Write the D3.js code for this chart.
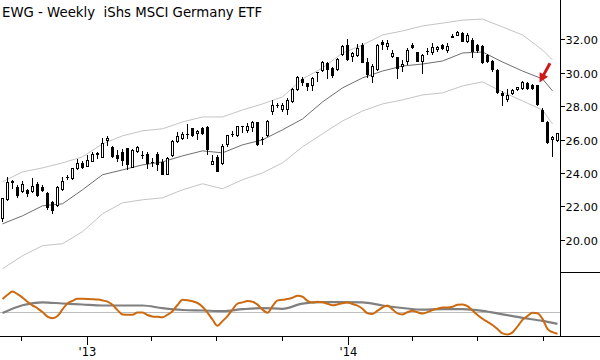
<!DOCTYPE html>
<html><head><meta charset="utf-8">
<script src="https://cdn.jsdelivr.net/npm/d3@7"></script>
<style>
body{margin:0;background:#fff}
svg{display:block}
text{font-family:"DejaVu Sans",sans-serif;fill:#000}
</style>
</head><body>
<svg id="c" width="600" height="360"></svg>
<script>
// ---------------- DATA ----------------
const title = "EWG - Weekly  iShs MSCI Germany ETF";
const startDate = new Date(2012, 8, 5); // first weekly bar
const open = [21.25,22.36,23.53,23.14,22.84,22.99,22.87,23.32,23.17,22.81,
22.27,21.99,22.99,23.77,23.63,24.21,24.58,24.38,24.68,25.11,
24.92,25.92,25.58,25.08,25.28,25.48,24.32,25.24,25.08,25.14,
24.63,25.12,24.68,23.89,25.04,25.84,26.04,26.31,26.68,26.32,
26.71,26.77,24.48,24.98,24.52,25.68,26.32,26.18,26.79,26.52,
26.68,27.04,26.01,26.18,27.67,28.07,27.75,27.74,28.27,28.97,
29.61,29.37,29.21,30.03,30.12,30.60,30.30,30.16,31.06,31.66,
30.92,31.00,31.66,30.66,29.75,30.16,31.86,31.51,30.92,30.94,
30.34,30.64,31.66,31.21,30.67,31.30,31.16,31.36,31.63,31.30,
32.14,32.22,32.36,31.86,31.96,31.66,31.57,31.06,30.70,30.16,
28.79,28.37,28.73,28.94,29.03,29.37,29.24,29.24,27.77,27.07,
25.98,25.92];
const high = [22.51,23.74,23.59,23.29,23.53,23.05,23.71,23.44,23.26,22.87,
22.30,23.20,23.77,23.86,24.32,24.81,24.69,25.08,25.28,25.28,
26.08,26.22,25.64,25.38,25.42,25.50,25.42,25.64,25.32,25.23,
24.90,25.24,24.82,24.98,25.98,26.47,26.44,26.92,26.71,26.58,
26.77,26.83,25.08,25.08,25.72,26.28,26.52,26.83,26.82,26.98,
27.11,27.07,26.12,27.17,28.37,28.17,28.17,28.46,29.07,29.81,
29.76,29.40,29.73,30.06,30.72,30.66,30.36,30.90,31.66,32.00,
31.26,31.70,31.76,30.86,30.52,31.70,31.96,31.96,31.36,30.96,
30.76,31.46,31.76,31.24,31.12,31.48,31.76,31.60,31.69,31.76,
32.30,32.47,32.42,32.38,32.06,31.72,31.66,31.12,30.76,30.22,
28.88,29.03,29.03,29.17,29.51,29.42,29.30,29.27,27.86,27.11,
26.20,26.40];
const low = [21.07,22.33,23.05,22.51,22.78,22.57,22.78,22.57,22.87,21.79,
21.52,21.95,22.89,23.59,23.59,24.18,24.24,24.33,24.64,24.82,
24.88,25.64,24.92,24.68,24.44,24.18,24.29,25.18,24.84,24.24,
24.38,24.12,23.87,23.86,24.98,25.78,25.98,26.04,26.14,25.98,
26.28,25.08,24.48,24.05,24.48,25.58,26.12,26.14,26.38,26.38,
26.47,25.64,25.68,26.16,27.47,27.87,27.67,27.47,28.21,28.93,
29.21,28.93,28.91,29.46,30.06,29.61,29.67,30.12,31.02,30.72,
30.66,30.96,30.56,29.67,29.37,30.12,31.36,31.36,30.86,29.61,
30.06,30.46,31.40,30.64,29.91,31.06,31.06,31.26,31.33,31.16,
32.08,32.17,31.84,31.78,30.86,31.18,30.55,30.61,30.07,28.73,
28.01,28.25,28.67,28.88,28.97,28.97,28.97,27.98,27.03,25.72,
24.98,25.88];
const close = [22.51,23.47,23.41,22.59,23.35,22.75,23.23,22.59,22.89,21.91,
21.73,23.17,23.53,23.71,24.30,24.58,24.32,24.78,25.12,25.18,
25.78,26.08,24.98,24.84,24.72,24.48,25.38,25.58,25.02,24.51,
24.57,24.48,23.89,24.92,25.92,26.22,26.32,26.25,26.18,26.52,
26.32,25.38,24.72,24.08,25.62,26.24,26.28,26.80,26.73,26.82,
27.04,25.68,25.95,27.11,28.07,28.01,28.07,28.37,29.01,29.73,
29.37,29.17,29.67,29.97,30.66,30.16,29.81,30.82,31.60,30.76,
31.16,31.46,30.60,29.87,30.40,31.66,31.66,31.80,31.16,30.22,
30.50,31.36,31.46,30.66,31.06,31.24,31.54,31.54,31.39,31.62,
32.20,32.42,31.86,32.26,31.24,31.30,30.56,30.66,30.16,28.79,
28.58,28.67,28.94,29.12,29.46,29.03,29.03,28.07,27.07,25.78,
26.16,26.38];

const bandWeeks = [0,4,8,12,16,20,24,28,32,36,40,44,48,52,56,60,64,68,72,76,80,84,88,92,96,100,104,108,110];
const bandUpper = [23.47,24.06,24.30,24.60,24.96,25.74,26.22,26.52,26.64,27.05,27.35,27.35,27.77,28.13,28.55,29.63,30.28,31.18,31.66,32.26,32.50,32.80,32.97,33.15,33.21,32.74,32.26,31.36,30.76];
const bandMid   = [20.95,21.43,22.03,22.15,22.99,23.89,24.18,24.48,24.66,25.02,25.32,25.20,25.68,25.98,26.58,27.23,28.25,29.09,29.69,30.10,30.40,30.52,30.70,31.18,31.24,30.64,30.10,29.63,28.91];
const bandLower = [18.26,19.04,19.64,19.76,20.48,21.55,22.21,22.39,22.51,22.99,23.35,23.05,23.59,24.00,24.60,25.56,26.34,27.11,27.71,28.13,28.37,28.67,28.79,29.21,29.45,28.85,28.31,27.77,26.93];

const oscFast = [13.5,17.7,20.9,18.3,14.9,10.8,7.2,4.2,0.4,-4.1,
-5.7,-3.6,3.1,9.1,11.6,13.7,13.7,13.6,13.3,12.9,
12.1,10.9,7.7,2.4,-2.0,-2.2,-2.3,0.0,0.1,-2.5,
-3.9,-4.3,-4.7,-2.2,1.3,7.5,12.7,12.2,11.2,9.5,
5.8,-0.1,-7.0,-13.3,-8.6,-3.6,3.0,8.9,10.1,11.4,
10.8,7.9,2.9,-0.2,6.4,12.1,12.7,13.4,14.7,16.7,
15.7,11.7,10.0,10.7,10.2,8.7,7.2,8.1,9.3,10.1,
8.5,6.8,3.7,-0.8,-1.4,1.8,5.0,7.1,3.1,-0.9,
-1.9,0.2,1.8,0.3,-1.1,0.4,2.4,3.8,5.1,4.9,
5.7,7.7,8.1,6.3,1.9,-2.5,-6.3,-9.4,-12.5,-16.6,
-20.9,-21.9,-19.9,-14.0,-7.4,-3.5,-0.2,-0.7,-6.3,-16.4,
-19.7,-21.3];
const slowWeeks = [0,4,8,12,16,20,24,28,32,36,40,44,48,52,56,60,64,68,72,76,80,84,88,92,96,100,104,108,111];
const oscSlow = [-0.5,7.3,10.2,9,8,7,7,7,4.3,2.5,2,1.4,3.3,4.4,3.7,8.9,10.3,10.3,10.1,7,4.5,2.8,3.3,3.3,1.7,-1.8,-5.4,-8.4,-11.3];

const priceTicks = [20,22,24,26,28,30,32];
const arrowFrom = [109.5, 30.56]; // [week, price]
const arrowTo   = [107.4, 29.42];

// ---------------- CHART ----------------
const svg = d3.select("#c");
const DAY = 864e5;
const weekDate = w => new Date(+startDate + w * 7 * DAY);
const n = open.length;
const x = d3.scaleTime().domain([weekDate(0), weekDate(n - 1)]).range([2.5, 557.5]);
const xw = w => x(weekDate(w));
const y = d3.scaleLinear().domain([20, 32]).range([239.7, 39.3]);
const yo = d3.scaleLinear().domain([-25, 40]).range([337.5, 272.5]);

svg.append("defs").append("clipPath").attr("id","pc")
  .append("rect").attr("x",0).attr("y",0).attr("width",560).attr("height",272);
svg.append("defs").append("clipPath").attr("id","oc")
  .append("rect").attr("x",0).attr("y",272).attr("width",560).attr("height",65);

// title
svg.append("text").attr("x",2).attr("y",16.5)
  .style("font-size","13.3px").style("white-space","pre").text(title);

const gp = svg.append("g").attr("clip-path","url(#pc)");

// bands
const bandLine = arr => d3.line().x((d,i)=>xw(bandWeeks[i])).y(d=>y(d))(arr);
gp.append("path").attr("d",bandLine(bandUpper)).attr("fill","none").attr("stroke","#c4c4c4").attr("stroke-width",1);
gp.append("path").attr("d",bandLine(bandLower)).attr("fill","none").attr("stroke","#c4c4c4").attr("stroke-width",1);
gp.append("path").attr("d",bandLine(bandMid)).attr("fill","none").attr("stroke","#6e6e6e").attr("stroke-width",1);

// candles
const candles = d3.range(n).map(i=>({i, o:open[i], h:high[i], l:low[i], c:close[i]}));
const cg = gp.append("g").attr("shape-rendering","crispEdges");
candles.forEach(d=>{
  const cx = xw(d.i);
  const yh = Math.round(y(d.h)), yl = Math.round(y(d.l));
  const top = Math.round(y(Math.max(d.o,d.c))), bot = Math.round(y(Math.min(d.o,d.c)));
  cg.append("line").attr("x1",cx).attr("x2",cx).attr("y1",yh).attr("y2",Math.max(yl,yh+1))
    .attr("stroke","#000").attr("stroke-width",1);
  if (d.c >= d.o) {
    const h = Math.max(bot - top, 2);
    cg.append("rect").attr("x",cx-1).attr("y",top+0.5).attr("width",2).attr("height",h-1)
      .attr("fill","#fff").attr("stroke","#000").attr("stroke-width",1);
  } else {
    const h = Math.max(bot - top, 1);
    cg.append("rect").attr("x",cx-1.5).attr("y",top).attr("width",3).attr("height",h)
      .attr("fill","#000");
  }
});

// arrow annotation
{
  const p1 = [xw(arrowFrom[0]), y(arrowFrom[1])];
  const p2 = [xw(arrowTo[0]), y(arrowTo[1])];
  const dx = p2[0]-p1[0], dy = p2[1]-p1[1], L = Math.hypot(dx,dy);
  const ux = dx/L, uy = dy/L, px = -uy, py = ux;
  const hl = 9, hw = 4.8;
  const b = [p2[0]-ux*hl, p2[1]-uy*hl];
  svg.append("line").attr("x1",p1[0]).attr("y1",p1[1]).attr("x2",b[0]+ux*1).attr("y2",b[1]+uy*1)
    .attr("stroke","#d01818").attr("stroke-width",3);
  svg.append("path").attr("d",`M${p2[0]},${p2[1]}L${b[0]+px*hw},${b[1]+py*hw}L${b[0]-px*hw},${b[1]-py*hw}Z`)
    .attr("fill","#d01818");
}

// oscillator panel
const go = svg.append("g").attr("clip-path","url(#oc)");
go.append("line").attr("x1",0).attr("x2",560).attr("y1",yo(0)).attr("y2",yo(0))
  .attr("stroke","#bdbdbd").attr("stroke-width",1);
go.append("path").attr("d", d3.line().x((d,i)=>xw(slowWeeks[i])).y(d=>yo(d)).curve(d3.curveMonotoneX)(oscSlow))
  .attr("fill","none").attr("stroke","#808080").attr("stroke-width",2.2);
go.append("path").attr("d", d3.line().x((d,i)=>xw(i)).y(d=>yo(d)).curve(d3.curveMonotoneX)(oscFast))
  .attr("fill","none").attr("stroke","#cc6a10").attr("stroke-width",2);

// frame / axes
const ax = svg.append("g").attr("shape-rendering","crispEdges").attr("stroke","#000");
ax.append("line").attr("x1",560.5).attr("x2",560.5).attr("y1",0).attr("y2",337);
ax.append("line").attr("x1",560).attr("x2",600).attr("y1",272.5).attr("y2",272.5);
ax.append("line").attr("x1",0).attr("x2",600).attr("y1",336.5).attr("y2",336.5);

// price axis
priceTicks.forEach(p=>{
  const yy = Math.round(y(p)) + 0.5;
  ax.append("line").attr("x1",560).attr("x2",565).attr("y1",yy).attr("y2",yy);
  svg.append("text").attr("x",565.5).attr("y",yy+4.2).style("font-size","11.3px")
    .text(d3.format(".2f")(p));
});

// time axis
const ticks = x.ticks(d3.timeMonth.every(3));
ticks.forEach(t=>{
  const xx = Math.round(x(t)) + 0.5;
  const major = t.getMonth() === 0;
  ax.append("line").attr("x1",xx).attr("x2",xx).attr("y1",337).attr("y2",major?345:341);
  if (major) {
    svg.append("text").attr("x",xx).attr("y",356).attr("text-anchor","middle")
      .style("font-size","11.5px").text("'" + d3.timeFormat("%y")(t));
  }
});
</script>
</body></html>
